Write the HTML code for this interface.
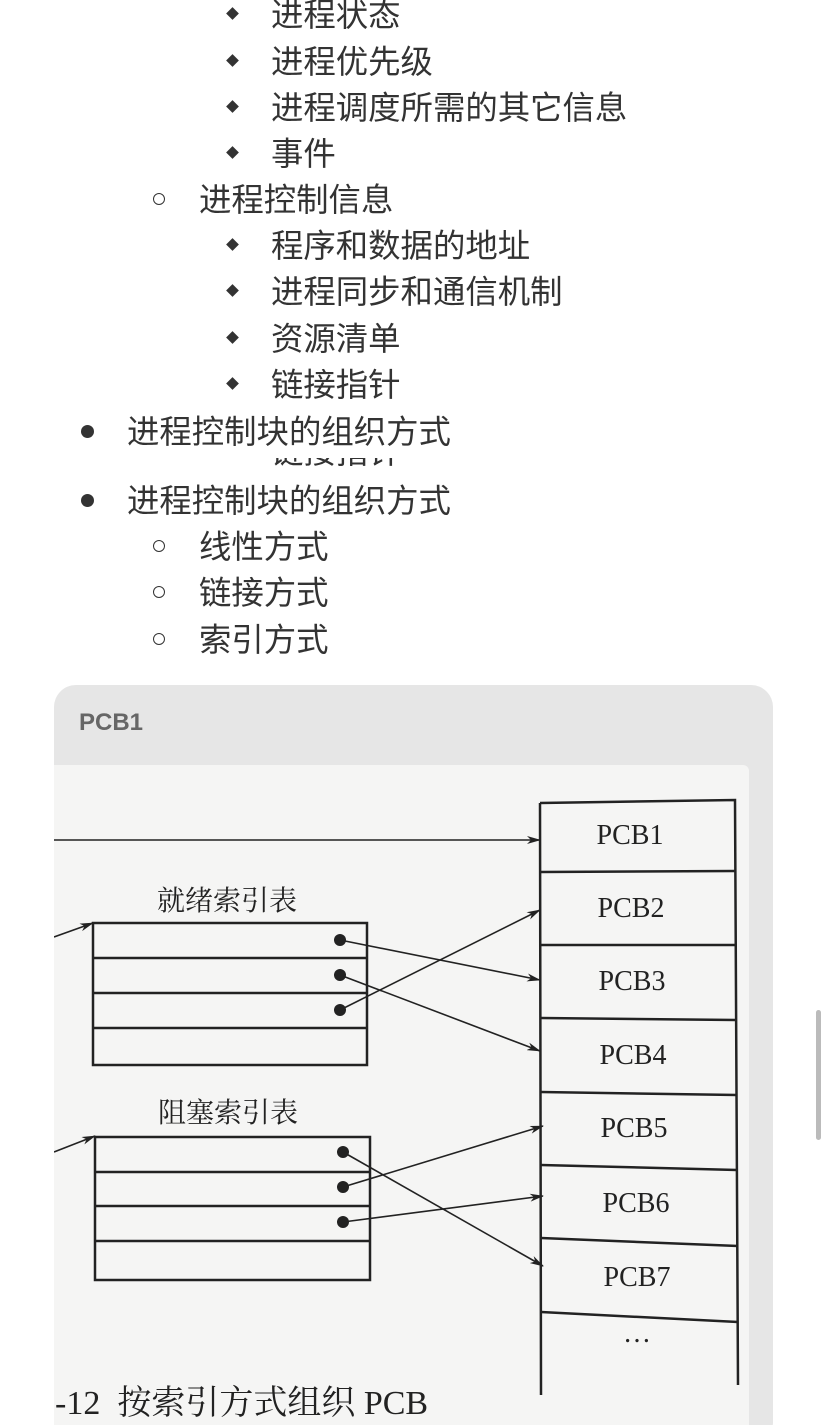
<!DOCTYPE html>
<html><head><meta charset="utf-8"><style>
html,body{margin:0;padding:0;width:828px;height:1425px;overflow:hidden;background:#fff;position:relative;font-family:"Liberation Sans","Noto Sans CJK SC",sans-serif;}
.t{position:absolute;font-size:32.4px;color:#333;line-height:40px;white-space:nowrap;}
.d{position:absolute;width:9px;height:9px;background:#333;transform:rotate(45deg);}
.c{position:absolute;width:10px;height:10px;border:1.5px solid #333;border-radius:50%;}
.b{position:absolute;width:13px;height:13px;background:#333;border-radius:50%;}
</style></head><body>
<div class="d" style="left:228px;top:9px"></div><div class="t" style="left:271px;top:-5px">进程状态</div>
<div class="d" style="left:228px;top:56px"></div><div class="t" style="left:271px;top:42px">进程优先级</div>
<div class="d" style="left:228px;top:102px"></div><div class="t" style="left:271px;top:88px">进程调度所需的其它信息</div>
<div class="d" style="left:228px;top:148px"></div><div class="t" style="left:271px;top:134px">事件</div>
<div class="c" style="left:153px;top:193px"></div><div class="t" style="left:199px;top:180px">进程控制信息</div>
<div class="d" style="left:228px;top:240px"></div><div class="t" style="left:271px;top:226px">程序和数据的地址</div>
<div class="d" style="left:228px;top:286px"></div><div class="t" style="left:271px;top:272px">进程同步和通信机制</div>
<div class="d" style="left:228px;top:333px"></div><div class="t" style="left:271px;top:319px">资源清单</div>
<div class="d" style="left:228px;top:379px"></div><div class="t" style="left:271px;top:365px">链接指针</div>
<div class="b" style="left:81px;top:425px"></div><div class="t" style="left:127px;top:412px">进程控制块的组织方式</div>
<div style="position:absolute;left:0;top:458px;width:828px;height:12px;overflow:hidden">
<div class="d" style="left:228px;top:-12px"></div><div class="t" style="left:271px;top:-26px">链接指针</div>
</div>
<div class="b" style="left:81px;top:494px"></div><div class="t" style="left:127px;top:481px">进程控制块的组织方式</div>
<div class="c" style="left:153px;top:540px"></div><div class="t" style="left:199px;top:527px">线性方式</div>
<div class="c" style="left:153px;top:586px"></div><div class="t" style="left:199px;top:573px">链接方式</div>
<div class="c" style="left:153px;top:633px"></div><div class="t" style="left:199px;top:620px">索引方式</div>
<div style="position:absolute;left:54px;top:685px;width:719px;height:760px;background:#e6e6e6;border-radius:22px"></div>
<div style="position:absolute;left:79px;top:705px;font-size:24px;font-weight:bold;color:#666;line-height:36px">PCB1</div>
<div style="position:absolute;left:54px;top:765px;width:695px;height:660px;background:#f5f5f4;border-top-right-radius:6px;overflow:hidden">
<svg width="695" height="660" viewBox="54 765 695 660" style="position:absolute;left:0;top:0">
<defs><marker id="a" markerWidth="14" markerHeight="8" refX="13" refY="4" orient="auto" markerUnits="userSpaceOnUse"><path d="M0,0 L14,4 L0,8 L4,4z" fill="#222"/></marker></defs>
<g stroke="#222" stroke-width="2.5" fill="none">
<path d="M540 803 L735 800 L738 1385 M540 803 L541 1395"/>
<path d="M540 872 L735 871 M540 945 L736 945 M541 1018 L736 1020 M541 1092 L737 1095 M541 1165 L737 1170 M541 1238 L738 1246 M541 1312 L738 1322"/>
<rect x="93" y="923" width="274" height="142"/>
<path d="M93 958 H367 M93 993 H367 M93 1028 H367"/>
<rect x="95" y="1137" width="275" height="143"/>
<path d="M95 1172 H370 M95 1206 H370 M95 1241 H370"/>
</g>
<g stroke="#222" stroke-width="1.6" fill="none" marker-end="url(#a)">
<path d="M54 840 L540 840"/>
<path d="M54 937 L93 923"/>
<path d="M54 1152 L95 1136"/>
<path d="M340 940 L540 980"/>
<path d="M340 975 L540 1051"/>
<path d="M340 1010 L540 910"/>
<path d="M343 1152 L543 1266"/>
<path d="M343 1187 L543 1126"/>
<path d="M343 1222 L543 1196"/>
</g>
<g fill="#222">
<circle cx="340" cy="940" r="6"/><circle cx="340" cy="975" r="6"/><circle cx="340" cy="1010" r="6"/>
<circle cx="343" cy="1152" r="6"/><circle cx="343" cy="1187" r="6"/><circle cx="343" cy="1222" r="6"/>
</g>
<g font-family="Liberation Serif, Noto Serif CJK SC, serif" font-size="28" fill="#222" text-anchor="middle">
<text x="630" y="844">PCB1</text><text x="631" y="917">PCB2</text><text x="632" y="990">PCB3</text>
<text x="633" y="1064">PCB4</text><text x="634" y="1137">PCB5</text><text x="636" y="1212">PCB6</text>
<text x="637" y="1286">PCB7</text><text x="637" y="1342">…</text>
</g>
<g font-family="Noto Serif CJK SC, serif" font-size="28" fill="#222">
<text x="157" y="910">就绪索引表</text><text x="158" y="1122">阻塞索引表</text>
<text x="55" y="1414" font-family="Liberation Serif, Noto Serif CJK SC, serif" font-size="34">-12&#160;&#160;按索引方式组织 PCB</text>
</g>
</svg>
</div>
<div style="position:absolute;left:816px;top:1010px;width:5px;height:130px;background:#bbb;border-radius:3px"></div>
</body></html>
